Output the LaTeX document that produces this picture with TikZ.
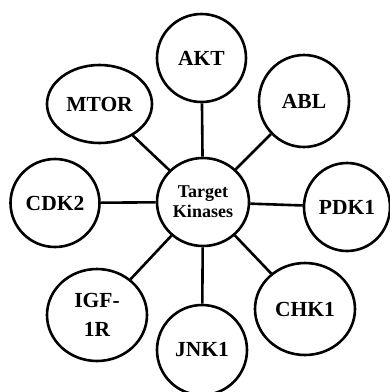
\documentclass[tikz,border=0pt]{standalone}
\usepackage{fontspec}
\setmainfont{Liberation Serif}
\usetikzlibrary{shapes.geometric}
\tikzset{
  kin/.style={draw=black, ellipse, line width=2.6pt, fill=white, inner sep=0pt,
    font=\fontsize{21.5}{26}\selectfont\bfseries, align=center},
  link/.style={line width=2.6pt, draw=black}
}
\begin{document}
\begin{tikzpicture}[x=1pt,y=-1pt]
\useasboundingbox[fill=white] (0,0) rectangle (390,392);
\node[kin, minimum width=92pt, minimum height=88pt, font=\fontsize{18}{20}\selectfont\bfseries] (c) at (203,202) {Target\\Kinases};
\node[kin, minimum width=89pt, minimum height=88pt] (akt) at (201.5,58) {AKT};
\node[kin, minimum width=105pt, minimum height=78pt] (mtor) at (99.5,104) {MTOR};
\node[kin, minimum width=90pt, minimum height=92pt] (abl) at (304,101) {ABL};
\node[kin, minimum width=89pt, minimum height=88pt] (cdk) at (55,203) {CDK2};
\node[kin, minimum width=86pt, minimum height=88pt] (pdk) at (347,207) {PDK1};
\node[kin, minimum width=100pt, minimum height=92pt, font=\fontsize{21.5}{29}\selectfont\bfseries] (igf) at (97,315) {IGF-\\1R};
\node[kin, minimum width=100pt, minimum height=92pt] (chk) at (305,309) {CHK1};
\node[kin, minimum width=90pt, minimum height=90pt] (jnk) at (202,350) {JNK1};
\draw[link] (c) -- (akt);
\draw[link] (c) -- (mtor);
\draw[link] (c) -- (abl);
\draw[link] (c) -- (cdk);
\draw[link] (c) -- (pdk);
\draw[link] (c) -- (igf);
\draw[link] (c) -- (chk);
\draw[link] (c) -- (jnk);
\end{tikzpicture}
\end{document}
